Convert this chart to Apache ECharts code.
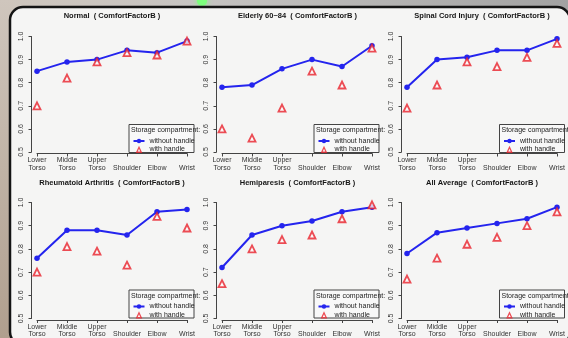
<!DOCTYPE html>
<html><head><meta charset="utf-8">
<script src="https://cdn.jsdelivr.net/npm/echarts@6/dist/echarts.min.js"></script>
<style>html,body{margin:0;padding:0;background:#fff}#c{width:568px;height:338px}</style>
</head><body><div id="c"></div>
<script>
// ---- data ----
const categories = ['Lower Torso', 'Middle Torso', 'Upper Torso', 'Shoulder', 'Elbow', 'Wrist'];
const panelTitles = [
  'Normal  ( ComfortFactorB )',
  'Elderly 60~84  ( ComfortFactorB )',
  'Spinal Cord Injury  ( ComfortFactorB )',
  'Rheumatoid Arthritis  ( ComfortFactorB )',
  'Hemiparesis  ( ComfortFactorB )',
  'All Average  ( ComfortFactorB )'
];
const seriesNames = ['without handle', 'with handle'];
const legendTitle = 'Storage compartment:';
const normalWithout   = [0.85, 0.89, 0.90, 0.94, 0.93, 0.98];
const normalWith      = [0.70, 0.82, 0.89, 0.93, 0.92, 0.98];
const elderlyWithout  = [0.78, 0.79, 0.86, 0.90, 0.87, 0.96];
const elderlyWith     = [0.60, 0.56, 0.69, 0.85, 0.79, 0.95];
const spinalWithout   = [0.78, 0.90, 0.91, 0.94, 0.94, 0.99];
const spinalWith      = [0.69, 0.79, 0.89, 0.87, 0.91, 0.97];
const rheumWithout    = [0.76, 0.88, 0.88, 0.86, 0.96, 0.97];
const rheumWith       = [0.70, 0.81, 0.79, 0.73, 0.94, 0.89];
const hemiWithout     = [0.72, 0.86, 0.90, 0.92, 0.96, 0.98];
const hemiWith        = [0.65, 0.80, 0.84, 0.86, 0.93, 0.99];
const avgWithout      = [0.78, 0.87, 0.89, 0.91, 0.93, 0.98];
const avgWith         = [0.67, 0.76, 0.82, 0.85, 0.90, 0.96];
const yMin = 0.5, yMax = 1.0, yInterval = 0.1;

const panelsWithout = [normalWithout, elderlyWithout, spinalWithout, rheumWithout, hemiWithout, avgWithout];
const panelsWith = [normalWith, elderlyWith, spinalWith, rheumWith, hemiWith, avgWith];

// ---- layout ----
const FONT = 'Liberation Sans, Arial, Helvetica, sans-serif';
const gridLefts = [37, 222, 407];
const gridW = 150;
const gridTops = [36.5, 202.5];
const gridHs = [115.5, 116];
const titleXs = [112, 297.5, 482];
const titleYs = [16, 183];
const boxXs = [129, 314, 499.5];
const boxYs = [124.5, 290];
const boxW = 65, boxH = 28;
const BLUE = '#2424ee', RED = '#e8202a';
// legend triangle icon padded to the legend item box so it keeps its shape
const TRI_ICON = 'path://M0,0M11,6M3,6L5.5,0.5L8,6Z';

const grid = [], xAxis = [], yAxis = [], series = [], title = [], legend = [];
const graphic = [
  {type: 'rect', z: -10, shape: {x: 0, y: 0, width: 568, height: 12},
   style: {fill: new echarts.graphic.LinearGradient(0, 0, 1, 0, [
     {offset: 0, color: '#cfc6bd'}, {offset: 0.35, color: '#c6c4c2'}, {offset: 1, color: '#a2a2a2'}])}},
  {type: 'rect', z: -10, shape: {x: 0, y: 0, width: 14, height: 338},
   style: {fill: new echarts.graphic.LinearGradient(0, 0, 0, 1, [
     {offset: 0, color: '#cfc6bd'}, {offset: 1, color: '#b09f8e'}])}},
  {type: 'circle', z: -9, shape: {cx: 202, cy: 1, r: 5},
   style: {fill: '#7dff7d', shadowBlur: 6, shadowColor: '#7dff7d'}},
  {type: 'rect', z: -8, shape: {x: 10, y: 7, width: 560, height: 338, r: 13},
   style: {fill: '#f5f5f4', stroke: '#141414', lineWidth: 2.5}}
];

for (let i = 0; i < 6; i++) {
  const col = i % 3, row = Math.floor(i / 3);
  grid.push({left: gridLefts[col], top: gridTops[row], width: gridW, height: gridHs[row]});
  xAxis.push({
    type: 'category', gridIndex: i, data: categories, boundaryGap: false, offset: 1.5,
    axisLine: {lineStyle: {color: '#444', width: 1}},
    axisTick: {length: 3, lineStyle: {color: '#444'}},
    axisLabel: {
      margin: 3, fontSize: 7, lineHeight: 7.5, color: '#333', fontFamily: FONT, interval: 0,
      formatter: v => v.indexOf(' ') >= 0 ? v.replace(' ', '\n') : '\n' + v
    },
    splitLine: {show: false}
  });
  yAxis.push({
    type: 'value', gridIndex: i, min: yMin, max: yMax, interval: yInterval, offset: 5.5,
    axisLine: {show: true, lineStyle: {color: '#444', width: 1}},
    axisTick: {show: true, length: 3, lineStyle: {color: '#444'}},
    axisLabel: {rotate: 90, margin: 7, fontSize: 7, color: '#333', fontFamily: FONT,
      formatter: v => v.toFixed(1)},
    splitLine: {show: false}
  });
  series.push({
    name: seriesNames[0], type: 'line', xAxisIndex: i, yAxisIndex: i, data: panelsWithout[i],
    symbol: 'circle', symbolSize: 5.5, lineStyle: {color: BLUE, width: 2},
    itemStyle: {color: BLUE}, z: 3, silent: true, animation: false
  });
  series.push({
    name: seriesNames[1], type: 'scatter', xAxisIndex: i, yAxisIndex: i, data: panelsWith[i],
    symbol: 'triangle', symbolSize: 7,
    itemStyle: {color: '#fbfbfb', borderColor: RED, borderWidth: 1.8}, z: 4, silent: true, animation: false
  });
  title.push({
    text: panelTitles[i], left: titleXs[col], top: titleYs[row], textAlign: 'center', textVerticalAlign: 'middle',
    padding: 0, textStyle: {fontSize: 7.5, fontWeight: 'bold', color: '#151515', fontFamily: FONT}
  });
  const bx = boxXs[col], by = boxYs[row];
  graphic.push({type: 'rect', z: 1, shape: {x: bx, y: by, width: boxW, height: boxH},
    style: {fill: '#f8f8f8', stroke: '#444', lineWidth: 1}});
  graphic.push({type: 'text', z: 2, x: bx + 2, y: by + 6,
    style: {text: legendTitle, fontSize: 7, fill: '#222', fontFamily: FONT, verticalAlign: 'middle', align: 'left'}});
  legend.push({
    orient: 'vertical', left: bx + 3.5, top: by + 13, padding: 0, itemGap: 1.5,
    itemWidth: 11, itemHeight: 5.5, selectedMode: false, z: 5, symbolKeepAspect: true,
    textStyle: {fontSize: 7, color: '#222', fontFamily: FONT, lineHeight: 5.5},
    data: [
      {name: seriesNames[0]},
      {name: seriesNames[1], icon: TRI_ICON, itemStyle: {color: '#fbfbfb', borderColor: RED, borderWidth: 1.3}}
    ]
  });
}

const chart = echarts.init(document.getElementById('c'), null, {renderer: 'canvas'});
chart.setOption({
  animation: false,
  backgroundColor: '#f5f5f4',
  grid, xAxis, yAxis, series, title, legend, graphic
});
</script></body></html>
